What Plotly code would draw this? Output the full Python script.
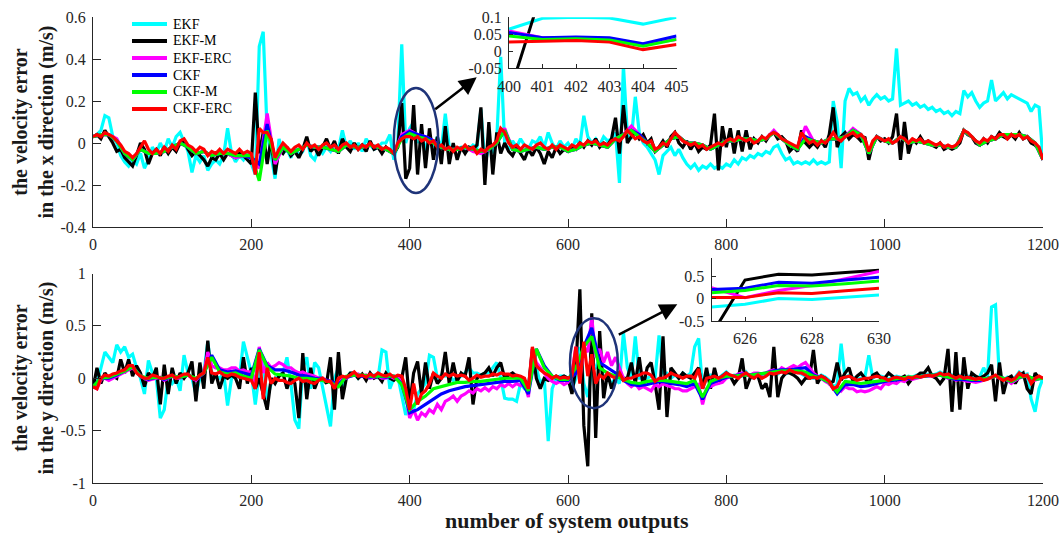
import numpy as np
import plotly.graph_objects as go

# ---------------- data ----------------
series_names = ["EKF", "EKF-M", "EKF-ERC", "CKF", "CKF-M", "CKF-ERC"]
series_colors = ["#00FFFF", "#000000", "#FF00FF", "#0000FF", "#00FF00", "#FF0000"]

# sample indices (number of system outputs)
x_step5 = np.arange(0, 1201, 5)
x_step10 = np.arange(0, 1201, 10)

# ---- x direction (top panel) ----
top_ekf = [
    0.03, 0.04, 0.06, 0.13, 0.12, 0.03, 0.0, -0.06, -0.09, -0.11, -0.08, -0.1, -0.05, -0.12, -0.08, -0.02, -0.05, 0.0, -0.04, 0.02,
    -0.02, 0.03, 0.05, 0.0, -0.04, -0.14, -0.06, -0.09, -0.06, -0.13, -0.1, -0.08, -0.1, -0.06, 0.07, -0.05, -0.09, -0.06, -0.08, -0.05,
    -0.1, -0.15, 0.46, 0.53, 0.05, -0.05, -0.17, 0.02, -0.05, -0.03, -0.07, -0.02, -0.06, -0.04, 0.02, -0.06, -0.08, -0.03, -0.05, -0.02,
    -0.04, 0.0, -0.03, 0.06, -0.02, 0.01, -0.03, 0.0, -0.04, 0.02, -0.01, -0.03, -0.02, 0.0, 0.0, 0.04, -0.08, 0.0, 0.47, 0.0,
    0.07, 0.1, 0.0, 0.06, -0.04, 0.04, -0.02, 0.03, -0.03, 0.14, -0.02, -0.04, -0.03, -0.02, -0.04, -0.03, -0.01, -0.02, 0.16, -0.1,
    -0.02, -0.04, 0.02, 0.41, 0.0, -0.03, 0.01, -0.02, 0.02, -0.01, -0.03, 0.01, 0.0, 0.03, -0.02, 0.05, 0.0, -0.03, 0.01, -0.02,
    0.0, -0.03, 0.02, -0.01, 0.13, 0.03, 0.0, 0.02, -0.01, 0.03, 0.01, 0.02, 0.05, -0.19, 0.37, 0.04, 0.02, 0.22, 0.05, 0.0,
    -0.02, -0.05, -0.08, -0.15, -0.06, -0.04, -0.02, -0.06, -0.03, -0.07, -0.1, -0.12, -0.1, -0.13, -0.11, -0.12, -0.1, -0.12, -0.11, -0.12,
    -0.1, -0.11, -0.08, -0.1, -0.07, -0.08, -0.06, -0.07, -0.05, -0.06, -0.04, -0.05, -0.02, -0.01, -0.05, -0.08, -0.07, -0.1, -0.09, -0.1,
    -0.09, -0.1, -0.08, -0.1, -0.09, -0.1, -0.09, 0.2, 0.1, -0.12, 0.2, 0.26, 0.23, 0.24, 0.2, 0.22, 0.18, 0.21, 0.23, 0.21,
    0.22, 0.2, 0.21, 0.45, 0.18, 0.19, 0.2, 0.18, 0.19, 0.17, 0.18, 0.16, 0.17, 0.15, 0.16, 0.14, 0.15, 0.13, 0.15, 0.14,
    0.25, 0.22, 0.24, 0.2, 0.17, 0.19, 0.2, 0.3, 0.2, 0.22, 0.24, 0.21, 0.23, 0.22, 0.21, 0.2, 0.19, 0.15, 0.18, 0.17,
    -0.08]
top_ekf_m = [
    0.03, 0.04, 0.02, 0.06, 0.03, 0.0, -0.04, -0.03, -0.07, -0.09, -0.11, -0.06, 0.0, -0.03, -0.1, -0.05, -0.03, -0.06, -0.02, -0.05,
    -0.02, -0.04, 0.0, 0.01, -0.03, -0.06, -0.04, -0.06, -0.08, -0.11, -0.07, -0.08, -0.05, -0.08, -0.05, -0.06, -0.07, -0.04, -0.06, -0.08,
    -0.1, 0.24, -0.05, 0.05, -0.1, 0.02, -0.15, -0.03, -0.05, -0.02, -0.06, -0.04, -0.07, -0.03, 0.03, -0.04, -0.02, -0.06, -0.02, 0.02,
    -0.03, 0.01, -0.05, 0.02, -0.02, -0.04, 0.0, -0.03, -0.01, -0.04, 0.01, -0.03, -0.02, -0.05, -0.02, -0.04, -0.05, -0.02, 0.19, -0.17,
    -0.12, 0.18, -0.15, 0.09, -0.12, 0.07, -0.08, 0.03, -0.1, 0.08, -0.1, 0.0, -0.08, -0.02, -0.05, -0.02, -0.03, -0.01, 0.17, -0.2,
    0.1, -0.15, 0.05, -0.05, 0.0, -0.04, -0.06, -0.02, -0.05, -0.08, -0.03, -0.06, -0.02, -0.05, -0.1, -0.04, -0.07, -0.02, -0.05, -0.03,
    -0.04, -0.02, -0.03, 0.0, -0.02, 0.01, -0.01, 0.02, -0.02, 0.0, -0.01, 0.02, 0.12, -0.05, 0.18, 0.0, 0.03, 0.05, 0.02, 0.04,
    0.0, 0.02, -0.04, -0.02, 0.01, -0.02, 0.03, 0.05, 0.0, -0.02, 0.01, -0.03, 0.0, -0.04, -0.02, -0.03, -0.01, 0.14, -0.13, 0.08,
    -0.02, 0.07, -0.05, 0.06, -0.04, 0.06, -0.03, 0.02, 0.0, 0.03, 0.01, 0.04, 0.05, 0.02, 0.03, 0.01, -0.04, -0.02, -0.04, 0.06,
    0.0, -0.02, 0.0, -0.02, 0.01, -0.02, 0.04, 0.17, -0.02, 0.03, 0.05, 0.02, 0.04, 0.03, 0.01, 0.03, -0.08, 0.0, 0.03, 0.01,
    0.02, 0.0, 0.03, 0.14, -0.08, 0.1, -0.05, 0.02, 0.0, 0.03, 0.0, 0.01, -0.01, -0.02, 0.0, -0.03, -0.02, -0.03, -0.02, 0.0,
    0.06, 0.04, 0.03, 0.0, -0.01, 0.02, 0.0, 0.03, 0.02, 0.05, 0.03, 0.02, 0.04, 0.02, 0.05, 0.02, 0.03, 0.0, -0.01, -0.03,
    -0.08]
top_ekf_erc = [
    0.03, 0.04, 0.04, 0.02, -0.05, -0.08, -0.03, -0.05, -0.05, -0.04,
    -0.02, 0.0, -0.02, -0.05, -0.04, -0.06, -0.05, -0.05, -0.07, -0.06,
    -0.07, -0.12, 0.14, -0.1, -0.02, -0.05, -0.03, -0.01, -0.02, -0.02,
    -0.03, -0.04, -0.01, -0.02, -0.02, -0.01, -0.02, -0.03, -0.05, 0.04,
    0.06, 0.04, 0.03, 0.01, -0.02, -0.03, -0.03, -0.02, -0.04, -0.05,
    -0.03, 0.0, 0.07, -0.03, -0.04, -0.03, -0.02, -0.03, -0.02, -0.02,
    -0.04, -0.03, -0.01, 0.0, -0.01, -0.02, 0.02, 0.04, 0.08, 0.04,
    0.0, -0.04, -0.01, 0.02, 0.03, 0.0, 0.0, -0.01, -0.03, -0.01,
    0.01, 0.01, 0.02, 0.02, 0.01, 0.02, 0.06, 0.02, -0.01, -0.03,
    0.08, 0.01, 0.0, 0.02, 0.02, 0.03, 0.07, 0.04, -0.05, 0.03,
    0.01, 0.0, 0.03, 0.0, 0.01, 0.0, -0.01, -0.01, -0.02, -0.02,
    0.06, 0.03, -0.01, 0.01, 0.02, 0.04, 0.04, 0.04, 0.03, 0.0,
    -0.08]
top_ckf = [
    0.03, 0.04, 0.04, 0.01, -0.05, -0.08, -0.03, -0.05, -0.05, -0.04,
    -0.02, 0.0, -0.02, -0.05, -0.04, -0.06, -0.05, -0.05, -0.06, -0.06,
    -0.07, -0.1, 0.09, -0.08, -0.02, -0.05, -0.03, -0.01, -0.02, -0.02,
    -0.03, -0.04, -0.01, -0.02, -0.02, -0.01, -0.02, -0.03, -0.05, 0.03,
    0.055, 0.04, 0.03, 0.01, -0.02, -0.03, -0.03, -0.02, -0.03, -0.04,
    -0.03, 0.0, 0.06, -0.03, -0.04, -0.03, -0.02, -0.03, -0.02, -0.02,
    -0.04, -0.03, -0.01, 0.0, -0.01, -0.02, 0.02, 0.04, 0.06, 0.04,
    0.0, -0.04, -0.01, 0.02, 0.03, 0.0, 0.0, -0.01, -0.03, -0.01,
    0.01, 0.01, 0.02, 0.02, 0.01, 0.02, 0.05, 0.02, -0.01, -0.03,
    0.03, 0.01, 0.0, 0.02, 0.02, 0.03, 0.06, 0.04, -0.05, 0.03,
    0.01, 0.0, 0.03, 0.0, 0.01, 0.0, -0.01, -0.01, -0.02, -0.02,
    0.06, 0.03, -0.01, 0.01, 0.02, 0.04, 0.04, 0.04, 0.03, 0.0,
    -0.08]
top_ckf_m = [
    0.03, 0.04, 0.04, 0.01, -0.05, -0.08, -0.03, -0.05, -0.05, -0.04,
    -0.02, 0.0, -0.02, -0.05, -0.04, -0.06, -0.05, -0.05, -0.06, -0.06,
    -0.06, -0.18, 0.06, -0.08, -0.02, -0.05, -0.03, -0.01, -0.02, -0.02,
    -0.03, -0.04, -0.01, -0.02, -0.02, -0.01, -0.02, -0.03, -0.05, 0.02,
    0.045, 0.03, 0.02, 0.0, -0.02, -0.03, -0.03, -0.02, -0.03, -0.04,
    -0.03, 0.0, 0.06, -0.03, -0.04, -0.03, -0.02, -0.03, -0.02, -0.02,
    -0.04, -0.03, -0.01, 0.0, -0.01, -0.02, 0.02, 0.04, 0.06, 0.03,
    0.0, -0.04, -0.01, 0.02, 0.03, 0.0, 0.0, -0.01, -0.03, -0.01,
    0.01, 0.01, 0.02, 0.02, 0.01, 0.02, 0.05, 0.02, -0.01, -0.03,
    0.02, 0.01, 0.0, 0.02, 0.02, 0.03, 0.06, 0.04, -0.05, 0.03,
    0.01, 0.0, 0.03, 0.0, 0.01, 0.0, -0.01, -0.01, -0.02, -0.02,
    0.06, 0.03, -0.01, 0.01, 0.02, 0.04, 0.04, 0.04, 0.03, 0.0,
    -0.08]
top_ckf_erc = [
    0.03, 0.04, 0.03, 0.05, 0.04, 0.03, 0.01, -0.01, -0.04, -0.05, -0.07, -0.05, -0.02, 0.01, -0.03, -0.05, -0.03, -0.05, -0.02, -0.04,
    -0.01, -0.03, 0.01, 0.02, -0.01, -0.02, -0.04, -0.02, -0.03, -0.06, -0.04, -0.05, -0.03, -0.05, -0.03, -0.04, -0.05, -0.03, -0.05, -0.04,
    -0.05, -0.15, 0.07, 0.05, 0.05, 0.02, -0.07, -0.03, 0.0, -0.02, -0.04, -0.02, -0.01, -0.03, 0.0, -0.02, -0.01, -0.03, -0.01, 0.0,
    -0.02, -0.01, -0.03, -0.01, 0.0, -0.02, -0.01, -0.03, -0.01, -0.02, 0.0, -0.02, -0.01, -0.03, -0.02, -0.03, -0.05, 0.0, 0.02, 0.03,
    0.03, 0.02, 0.03, 0.01, 0.02, 0.0, 0.01, -0.02, -0.01, -0.03, -0.02, -0.04, -0.02, -0.03, -0.01, -0.03, -0.02, -0.05, -0.03, -0.04,
    -0.02, -0.01, 0.01, 0.07, 0.05, 0.0, -0.02, -0.01, -0.03, -0.01, -0.02, -0.03, -0.01, 0.0, -0.02, -0.03, -0.01, -0.03, -0.01, -0.02,
    -0.03, -0.01, -0.02, 0.0, -0.01, 0.01, 0.0, 0.01, -0.01, 0.0, -0.01, 0.01, 0.02, 0.01, 0.03, 0.06, 0.04, 0.02, 0.03, 0.01,
    0.0, 0.01, -0.03, -0.02, 0.0, -0.01, 0.02, 0.05, 0.03, 0.01, 0.0, -0.01, 0.0, -0.02, -0.01, -0.03, -0.02, -0.01, 0.0, -0.01,
    0.01, 0.02, 0.01, 0.03, 0.02, 0.01, 0.02, 0.0, 0.01, 0.03, 0.02, 0.04, 0.05, 0.04, 0.02, 0.01, 0.0, -0.01, -0.02, 0.05,
    0.02, 0.0, 0.01, -0.01, 0.01, 0.0, 0.02, 0.05, 0.02, 0.01, 0.03, 0.04, 0.05, 0.03, 0.04, 0.02, -0.04, 0.01, 0.03, 0.02,
    0.01, 0.02, 0.0, 0.01, 0.03, 0.02, 0.0, 0.02, 0.01, 0.02, 0.0, 0.01, 0.0, -0.01, 0.0, -0.02, -0.01, -0.02, -0.01, 0.01,
    0.06, 0.05, 0.03, 0.01, 0.0, 0.02, 0.01, 0.03, 0.02, 0.04, 0.04, 0.02, 0.04, 0.03, 0.04, 0.02, 0.03, 0.01, 0.0, -0.02,
    -0.08]

# ---- y direction (bottom panel) ----
bot_ekf = [
    -0.08, -0.05, 0.1, 0.25, 0.2, 0.15, 0.32, 0.25, 0.3, 0.2, 0.23, 0.1, 0.0, -0.15, 0.17, 0.05, 0.0, -0.38, -0.3, 0.0,
    -0.05, 0.0, -0.12, 0.22, 0.05, 0.0, -0.15, 0.0, 0.05, 0.35, 0.05, 0.02, 0.0, 0.05, -0.26, 0.0, 0.05, 0.0, 0.35, 0.2,
    0.05, -0.25, 0.05, 0.15, -0.2, -0.05, 0.0, 0.03, 0.05, 0.2, -0.05, -0.4, -0.48, 0.1, 0.2, -0.1, 0.15, 0.1, -0.1, -0.3,
    -0.46, 0.0, 0.1, -0.1, 0.0, 0.05, 0.05, 0.0, 0.03, 0.0, 0.02, 0.03, 0.0, 0.27, 0.25, -0.1, 0.0, 0.02, -0.15, -0.35,
    -0.25, -0.3, -0.15, -0.1, -0.05, 0.22, 0.2, 0.0, 0.03, 0.02, 0.03, -0.02, 0.0, 0.02, 0.05, 0.1, 0.05, 0.05, 0.03, 0.05,
    0.05, 0.1, 0.15, 0.0, -0.19, -0.2, -0.2, -0.22, -0.05, -0.1, -0.1, 0.25, 0.1, -0.05, 0.0, -0.6, -0.1, 0.0, 0.02, 0.02,
    0.0, -0.1, 0.0, 0.3, -0.05, -0.18, 0.08, 0.1, 0.2, 0.0, 0.0, -0.05, 0.0, -0.05, 0.44, 0.1, 0.0, 0.4, 0.0, 0.0,
    0.0, 0.02, 0.0, 0.41, 0.05, 0.05, 0.0, 0.03, 0.0, 0.05, 0.02, 0.05, 0.3, 0.38, -0.1, 0.0, 0.03, 0.02, 0.0, 0.03,
    0.06, 0.02, 0.03, 0.01, 0.02, 0.06, 0.01, 0.0, 0.04, 0.01, 0.03, 0.04, 0.05, 0.04, 0.07, 0.04, 0.07, 0.05, 0.06, 0.04,
    0.02, 0.01, 0.0, 0.01, 0.03, 0.01, -0.02, -0.08, -0.06, 0.33, 0.0, 0.03, 0.01, -0.01, 0.0, 0.01, 0.22, 0.0, 0.03, 0.02,
    0.01, -0.01, 0.01, 0.02, 0.01, 0.0, 0.02, 0.01, 0.03, 0.02, 0.03, 0.04, 0.03, 0.04, 0.06, 0.04, 0.05, 0.03, 0.01, 0.03,
    0.01, 0.02, 0.01, 0.0, 0.01, 0.1, 0.02, 0.68, 0.7, 0.0, -0.02, 0.01, -0.01, 0.01, 0.06, 0.03, 0.04, -0.2, -0.32, -0.1,
    0.0]
bot_ekf_m = [
    -0.1, 0.1, -0.05, 0.05, 0.0, 0.02, 0.0, 0.18, 0.05, 0.18, 0.02, 0.12, 0.05, -0.08, 0.05, 0.0, 0.1, -0.25, 0.13, -0.15,
    0.1, -0.05, 0.05, 0.0, 0.05, 0.16, -0.22, 0.15, -0.1, 0.36, -0.05, 0.05, -0.1, 0.02, 0.0, 0.03, 0.0, -0.1, 0.2, -0.05,
    0.1, -0.1, 0.0, -0.15, -0.3, 0.0, -0.05, 0.02, 0.05, -0.1, 0.02, -0.05, -0.38, 0.24, -0.2, 0.1, -0.1, 0.0, 0.0, -0.05,
    0.2, -0.3, 0.25, -0.2, 0.0, 0.05, 0.05, 0.0, 0.04, -0.02, 0.05, 0.0, 0.02, -0.03, 0.05, 0.0, -0.02, 0.02, 0.0, 0.2,
    -0.25, 0.05, 0.16, -0.15, 0.15, -0.1, 0.05, -0.05, 0.0, 0.25, -0.05, 0.15, -0.03, 0.05, 0.02, 0.2, -0.25, 0.0, 0.03, 0.05,
    0.1, 0.02, 0.1, 0.15, 0.0, 0.03, 0.05, 0.02, 0.0, -0.05, -0.1, 0.28, 0.0, -0.1, 0.0, -0.02, 0.0, 0.02, 0.0, 0.02,
    0.0, -0.15, 0.1, 0.85, -0.45, -0.84, 0.62, -0.57, 0.45, -0.19, 0.05, -0.1, 0.0, 0.05, 0.0, 0.0, 0.15, -0.05, 0.2, -0.08,
    0.1, 0.15, -0.05, -0.3, 0.4, -0.37, 0.1, 0.05, 0.0, 0.05, 0.02, 0.0, 0.05, 0.1, -0.1, 0.1, -0.1, 0.1, -0.05, 0.02,
    0.05, 0.02, -0.05, 0.0, 0.19, -0.1, 0.0, 0.03, 0.02, -0.1, -0.05, -0.18, 0.3, -0.18, 0.0, 0.05, 0.05, 0.03, 0.0, -0.05,
    0.0, 0.0, 0.27, -0.05, 0.02, 0.0, -0.05, -0.03, 0.15, -0.02, 0.05, 0.1, -0.03, 0.02, 0.05, 0.0, -0.05, 0.03, 0.05, 0.0,
    0.0, 0.05, 0.02, -0.02, 0.0, 0.02, -0.05, 0.0, 0.02, 0.05, 0.05, 0.1, 0.02, 0.0, -0.05, 0.0, 0.28, -0.32, 0.25, -0.3,
    0.2, -0.1, 0.05, 0.02, 0.0, 0.02, 0.05, 0.13, -0.22, 0.15, -0.15, 0.0, 0.02, -0.05, 0.02, 0.05, -0.1, -0.15, 0.05, 0.0,
    0.0]
bot_ekf_erc = [
    -0.08, -0.1, -0.01, 0.0, -0.02, 0.0, 0.02, 0.04, 0.06, 0.08, 0.1, 0.06, 0.02, 0.0, -0.02, -0.01, 0.0, 0.01, -0.02, 0.0,
    0.02, 0.0, 0.0, 0.03, 0.03, 0.0, -0.02, 0.02, 0.05, 0.25, 0.12, 0.1, 0.1, 0.08, 0.08, 0.1, 0.1, 0.07, 0.08, 0.06,
    0.06, -0.05, 0.3, 0.05, 0.15, 0.1, 0.12, 0.15, 0.13, 0.1, 0.1, 0.07, 0.05, 0.06, 0.04, 0.03, 0.02, 0.0, 0.0, -0.02,
    -0.03, -0.06, -0.05, 0.0, 0.0, 0.02, 0.03, 0.04, 0.02, 0.03, 0.0, 0.01, 0.02, 0.0, 0.0, 0.02, 0.0, 0.02, -0.05, -0.15,
    -0.38, -0.3, -0.4, -0.33, -0.36, -0.3, -0.33, -0.25, -0.3, -0.22, -0.2, -0.17, -0.22, -0.17, -0.15, -0.12, -0.14, -0.1, -0.12, -0.09,
    -0.12, -0.08, -0.1, -0.06, -0.08, -0.05, -0.08, -0.05, -0.07, -0.05, -0.18, 0.28, 0.15, 0.1, 0.05, 0.0, -0.03, -0.05, -0.03, -0.06,
    -0.04, 0.05, 0.3, 0.0, 0.3, 0.25, 0.58, 0.2, 0.28, 0.15, 0.25, 0.12, 0.2, 0.1, 0.0, -0.05, -0.08, -0.05, -0.1, -0.08,
    -0.1, -0.12, -0.06, -0.08, -0.05, -0.07, -0.08, -0.1, -0.1, -0.12, -0.12, -0.1, -0.08, -0.06, -0.25, -0.1, -0.08, -0.06, -0.05, -0.04,
    0.0, 0.02, 0.02, 0.04, 0.05, 0.03, 0.03, 0.05, 0.05, 0.04, 0.05, 0.07, 0.08, 0.06, 0.1, 0.08, 0.1, 0.12, 0.1, 0.13,
    0.15, 0.1, 0.05, 0.02, 0.0, -0.03, -0.05, -0.1, -0.08, -0.12, -0.08, -0.1, -0.1, -0.13, -0.12, -0.13, -0.12, -0.1, -0.08, -0.1,
    -0.05, -0.06, -0.04, -0.05, -0.02, -0.03, 0.0, -0.01, 0.0, 0.01, 0.02, 0.02, 0.02, 0.03, 0.03, 0.02, 0.0, 0.01, -0.02, -0.01,
    -0.02, -0.03, -0.03, -0.04, -0.03, -0.02, 0.0, 0.01, 0.02, 0.0, 0.0, -0.02, -0.05, -0.02, 0.0, 0.02, 0.02, -0.03, -0.02, 0.0,
    0.0]
bot_ckf = [
    -0.08, 0.0, 0.0, 0.03, 0.07, 0.11, 0.02, -0.01, 0.01, -0.01,
    0.02, 0.01, 0.03, -0.01, 0.05, 0.22, 0.08, 0.06, 0.07, 0.05,
    0.03, 0.28, 0.12, 0.08, 0.08, 0.06, 0.03, 0.02, 0.0, -0.01,
    -0.03, -0.06, 0.01, 0.03, 0.02, 0.01, 0.02, 0.01, 0.02, -0.05,
    -0.33, -0.3, -0.25, -0.2, -0.15, -0.12, -0.1, -0.08, -0.07, -0.06,
    -0.05, -0.04, -0.03, -0.03, -0.02, -0.15, 0.28, 0.12, 0.02, -0.02,
    -0.02, 0.05, 0.3, 0.48, 0.15, 0.1, 0.05, -0.02, -0.06, -0.07,
    -0.06, -0.04, -0.03, -0.05, -0.06, -0.08, -0.05, -0.2, -0.05, -0.02,
    0.01, 0.02, 0.04, 0.03, 0.04, 0.05, 0.07, 0.08, 0.08, 0.09,
    0.1, 0.03, 0.0, -0.04, -0.15, -0.06, -0.06, -0.08, -0.07, -0.05,
    -0.03, -0.02, -0.01, 0.0, 0.01, 0.02, 0.03, 0.03, 0.01, -0.01,
    -0.01, -0.02, -0.02, 0.0, 0.02, 0.0, -0.03, 0.01, 0.02, -0.01,
    0.0]
bot_ckf_m = [
    -0.08, 0.0, 0.01, 0.04, 0.07, 0.11, 0.02, 0.0, 0.01, 0.0,
    0.02, 0.01, 0.03, 0.0, 0.05, 0.2, 0.06, 0.04, 0.05, 0.02,
    0.0, 0.27, 0.11, 0.04, 0.03, 0.02, 0.0, 0.0, -0.01, -0.02,
    -0.04, -0.08, 0.02, 0.03, 0.03, 0.02, 0.02, 0.02, 0.02, -0.06,
    -0.3, -0.22, -0.17, -0.1, -0.08, -0.06, -0.04, -0.04, -0.03, -0.03,
    -0.02, -0.01, 0.0, 0.0, 0.0, -0.12, 0.28, 0.1, 0.02, -0.01,
    -0.01, 0.1, 0.3, 0.4, 0.1, 0.05, 0.02, -0.01, -0.04, -0.05,
    -0.03, -0.02, -0.02, -0.03, -0.04, -0.05, -0.02, -0.18, -0.03, 0.0,
    0.02, 0.02, 0.03, 0.03, 0.04, 0.05, 0.06, 0.07, 0.07, 0.07,
    0.06, 0.02, 0.0, -0.04, -0.13, -0.03, -0.04, -0.05, -0.04, -0.03,
    -0.02, -0.01, 0.0, 0.01, 0.01, 0.02, 0.03, 0.03, 0.01, 0.0,
    0.0, -0.01, -0.01, 0.0, 0.02, 0.0, -0.03, 0.01, 0.02, -0.01,
    0.0]
bot_ckf_erc = [
    -0.08, -0.1, 0.0, 0.03, 0.02, 0.04, 0.05, 0.07, 0.08, 0.12, 0.12, 0.05, 0.02, 0.0, 0.0, 0.03, 0.02, 0.0, 0.0, 0.02,
    0.03, 0.0, 0.02, 0.04, 0.04, 0.0, -0.01, 0.03, 0.05, 0.2, 0.05, 0.04, 0.06, 0.03, 0.02, 0.04, 0.03, 0.01, 0.0, -0.01,
    -0.02, -0.1, 0.25, -0.2, 0.1, -0.05, 0.0, -0.02, -0.02, -0.04, -0.05, -0.02, 0.0, -0.03, -0.02, -0.04, -0.05, -0.02, 0.0, -0.03,
    -0.03, -0.1, 0.0, 0.02, 0.01, 0.03, 0.06, 0.02, 0.03, 0.01, 0.04, 0.02, 0.05, 0.03, 0.02, 0.04, 0.01, 0.03, 0.02, -0.1,
    -0.3, -0.05, -0.25, -0.15, -0.12, -0.05, 0.05, 0.02, 0.0, 0.04, 0.02, 0.04, 0.02, 0.03, 0.02, -0.02, 0.0, 0.03, 0.01, 0.02,
    0.02, 0.04, 0.03, 0.05, 0.04, 0.04, 0.02, 0.03, 0.02, 0.0, -0.1, 0.3, 0.12, 0.08, 0.05, 0.03, 0.0, 0.02, 0.0, 0.01,
    0.0, 0.02, 0.3, -0.05, 0.35, 0.02, 0.23, -0.05, 0.03, 0.0, 0.05, 0.02, 0.0, 0.05, -0.02, 0.0, 0.0, 0.02, 0.03, 0.05,
    0.05, 0.03, -0.03, 0.0, 0.0, 0.02, 0.05, 0.03, 0.02, 0.0, 0.02, 0.02, 0.0, 0.09, -0.1, 0.0, 0.01, 0.02, 0.0, 0.02,
    0.05, 0.03, 0.02, 0.0, 0.03, 0.05, 0.02, 0.0, 0.03, 0.0, 0.02, 0.05, 0.04, 0.05, 0.06, 0.05, 0.08, 0.06, 0.05, 0.05,
    0.03, 0.0, 0.01, 0.0, 0.02, 0.0, -0.03, -0.1, -0.08, 0.0, 0.01, 0.02, 0.0, -0.02, -0.01, 0.0, 0.0, 0.01, 0.02, 0.01,
    0.0, -0.02, 0.0, 0.01, 0.0, -0.01, 0.01, 0.0, 0.02, 0.01, 0.02, 0.03, 0.02, 0.03, 0.05, 0.03, 0.04, 0.02, 0.0, 0.02,
    0.0, 0.01, 0.0, -0.01, 0.0, -0.02, -0.01, 0.01, 0.03, 0.0, -0.02, 0.0, -0.02, 0.0, 0.05, 0.02, 0.03, -0.05, 0.0, 0.02,
    0.0]

# ---- zoomed insets ----
inset_top_x = [400, 401, 402, 403, 404, 405]
inset_top_ekf = [0.065, 0.097, 0.1, 0.098, 0.08, 0.1]
inset_top_ekf_m = [-0.128, 0.184, 0.17, 0.15, 0.13, 0.12]
inset_top_ekf_erc = [0.06, 0.04, 0.04, 0.035, 0.02, 0.035]
inset_top_ckf = [0.055, 0.04, 0.042, 0.04, 0.022, 0.045]
inset_top_ckf_m = [0.045, 0.035, 0.037, 0.033, 0.015, 0.035]
inset_top_ckf_erc = [0.027, 0.03, 0.032, 0.027, 0.005, 0.02]

inset_bot_x = [625, 626, 627, 628, 629, 630]
inset_bot_ekf = [-0.19, -0.13, 0.0, -0.02, 0.03, 0.08]
inset_bot_ekf_m = [-0.8, 0.41, 0.54, 0.52, 0.58, 0.63]
inset_bot_ekf_erc = [0.24, 0.02, 0.18, 0.29, 0.44, 0.6]
inset_bot_ckf = [0.2, 0.23, 0.36, 0.34, 0.41, 0.47]
inset_bot_ckf_m = [0.13, 0.18, 0.29, 0.28, 0.33, 0.39]
inset_bot_ckf_erc = [0.02, 0.02, 0.13, 0.11, 0.17, 0.23]

# tick values / labels
main_xticks = [0, 200, 400, 600, 800, 1000, 1200]
top_yticks = [-0.4, -0.2, 0, 0.2, 0.4, 0.6]
top_yticklabels = ["-0.4", "-0.2", "0", "0.2", "0.4", "0.6"]
bot_yticks = [-1, -0.5, 0, 0.5, 1]
bot_yticklabels = ["-1", "-0.5", "0", "0.5", "1"]
inset_top_xticks = [400, 401, 402, 403, 404, 405]
inset_top_yticks = [-0.05, 0, 0.05, 0.1]
inset_top_yticklabels = ["-0.05", "0", "0.05", "0.1"]
inset_bot_xticks = [626, 628, 630]
inset_bot_yticks = [-0.5, 0, 0.5]
inset_bot_yticklabels = ["-0.5", "0", "0.5"]

top_series = [(x_step5, top_ekf), (x_step5, top_ekf_m), (x_step10, top_ekf_erc),
              (x_step10, top_ckf), (x_step10, top_ckf_m), (x_step5, top_ckf_erc)]
bot_series = [(x_step5, bot_ekf), (x_step5, bot_ekf_m), (x_step5, bot_ekf_erc),
              (x_step10, bot_ckf), (x_step10, bot_ckf_m), (x_step5, bot_ckf_erc)]
inset_top_series = [inset_top_ekf, inset_top_ekf_m, inset_top_ekf_erc, inset_top_ckf, inset_top_ckf_m, inset_top_ckf_erc]
inset_bot_series = [inset_bot_ekf, inset_bot_ekf_m, inset_bot_ekf_erc, inset_bot_ckf, inset_bot_ckf_m, inset_bot_ckf_erc]

for xs, ys in top_series + bot_series:
    assert len(xs) == len(ys), (len(xs), len(ys))

# ---------------- figure ----------------
W, H = 1059, 534
FONT = "Liberation Serif"
AX = "#262626"
LW = 3.2


def px(v):
    return v / W


def py(v):
    return 1 - v / H


fig = go.Figure()
for i, name in enumerate(series_names):
    xs, ys = top_series[i]
    fig.add_trace(go.Scatter(x=xs, y=ys, mode="lines", name=name,
                             line=dict(color=series_colors[i], width=LW), xaxis="x", yaxis="y"))
for i, name in enumerate(series_names):
    xs, ys = bot_series[i]
    fig.add_trace(go.Scatter(x=xs, y=ys, mode="lines", name=name,
                             line=dict(color=series_colors[i], width=LW), xaxis="x2", yaxis="y2"))
for i, name in enumerate(series_names):
    fig.add_trace(go.Scatter(x=inset_top_x, y=inset_top_series[i], mode="lines", name=name,
                             line=dict(color=series_colors[i], width=3), xaxis="x3", yaxis="y3"))
for i, name in enumerate(series_names):
    fig.add_trace(go.Scatter(x=inset_bot_x, y=inset_bot_series[i], mode="lines", name=name,
                             line=dict(color=series_colors[i], width=3), xaxis="x4", yaxis="y4"))


def axis(domain, rng, tickvals, ticktext=None, anchor=None, ticklen=8):
    d = dict(domain=domain, range=rng, tickvals=tickvals, showline=True, linecolor=AX, linewidth=1,
             ticks="inside", ticklen=ticklen, tickwidth=1, tickcolor=AX, showgrid=False, zeroline=False,
             tickfont=dict(family=FONT, size=16, color=AX), anchor=anchor, fixedrange=True,
             automargin=False, ticklabelstandoff=3)
    if ticktext is not None:
        d["ticktext"] = ticktext
    else:
        d["ticktext"] = [str(v) for v in tickvals]
    return d


fig.update_layout(
    template="none",
    font=dict(family=FONT, size=16, color=AX),
    width=W, height=H, margin=dict(l=0, r=0, t=0, b=0, pad=0, autoexpand=False),
    paper_bgcolor="white", plot_bgcolor="white", showlegend=False,
    xaxis=axis([px(93), px(1043)], [0, 1200], main_xticks, anchor="y"),
    yaxis=axis([py(227), py(17)], [-0.4, 0.6], top_yticks, top_yticklabels, anchor="x"),
    xaxis2=axis([px(93), px(1043)], [0, 1200], main_xticks, anchor="y2"),
    yaxis2=axis([py(483), py(273.5)], [-1, 1], bot_yticks, bot_yticklabels, anchor="x2"),
    xaxis3=axis([px(509), px(676.5)], [400, 405], inset_top_xticks, anchor="y3", ticklen=4),
    yaxis3=axis([py(68.3), py(17.3)], [-0.05, 0.1], inset_top_yticks, inset_top_yticklabels, anchor="x3", ticklen=4),
    xaxis4=axis([px(711.5), px(879)], [625, 630], inset_bot_xticks, anchor="y4", ticklen=4),
    yaxis4=axis([py(321), py(257.7)], [-0.5, 0.907], inset_bot_yticks, inset_bot_yticklabels, anchor="x4", ticklen=4),
)

shapes = []
annotations = []

# legend (drawn manually for exact spacing)
legend_rows = [24, 41, 58, 75, 92, 109]
for i, name in enumerate(series_names):
    yy = py(legend_rows[i])
    shapes.append(dict(type="line", xref="paper", yref="paper", x0=px(132), x1=px(167), y0=yy, y1=yy,
                       line=dict(color=series_colors[i], width=4)))
    annotations.append(dict(xref="paper", yref="paper", x=px(171), y=yy, xanchor="left", yanchor="middle",
                            text=name, showarrow=False, font=dict(family=FONT, size=14, color="#000000")))

# ellipses marking zoomed regions
ELL = "#1F3479"
shapes.append(dict(type="circle", xref="x", yref="y", x0=380, x1=436, y0=-0.238, y1=0.262,
                   line=dict(color=ELL, width=2.5), layer="above"))
shapes.append(dict(type="circle", xref="x2", yref="y2", x0=602.5, x1=663, y0=-0.286, y1=0.573,
                   line=dict(color=ELL, width=2.5), layer="above"))

# arrows
annotations.append(dict(xref="paper", yref="paper", x=px(476.7), y=py(77.3), ax=-43, ay=33,
                        showarrow=True, arrowhead=2, arrowsize=1.4, arrowwidth=2.5, arrowcolor="black", text=""))
annotations.append(dict(xref="paper", yref="paper", x=px(677.3), y=py(304.3), ax=-60, ay=31,
                        showarrow=True, arrowhead=2, arrowsize=1.4, arrowwidth=2.5, arrowcolor="black", text=""))

# axis titles
annotations.append(dict(xref="paper", yref="paper", x=px(32.5), y=py(122), textangle=-90,
                        text="<b>the velocity error<br>in the x direction (m/s)</b>", showarrow=False,
                        xanchor="center", yanchor="middle", font=dict(family=FONT, size=20, color="#1a1a1a")))
annotations.append(dict(xref="paper", yref="paper", x=px(32.5), y=py(378), textangle=-90,
                        text="<b>the velocity error<br>in the y direction (m/s)</b>", showarrow=False,
                        xanchor="center", yanchor="middle", font=dict(family=FONT, size=20, color="#1a1a1a")))
annotations.append(dict(xref="paper", yref="paper", x=px(567), y=py(520),
                        text="<b>number of system outputs</b>", showarrow=False,
                        xanchor="center", yanchor="middle", font=dict(family=FONT, size=22, color="#1a1a1a")))

fig.update_layout(shapes=shapes, annotations=annotations)
fig.write_html("out.html")
